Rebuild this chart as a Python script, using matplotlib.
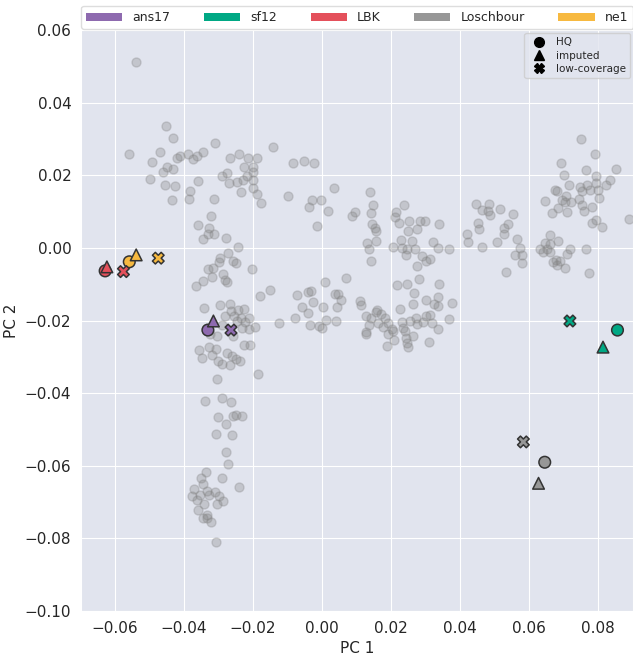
import matplotlib.pyplot as plt
import numpy as np
import seaborn as sns
from matplotlib.patches import Patch
from matplotlib.lines import Line2D

sns.set_style('darkgrid', {'axes.facecolor': '#e1e4ee'})
plt.rcParams['font.family'] = ['DejaVu Sans']

# reference panel, (PC1, PC2) --------------------------------------------

# upper left arm
ref_west = [(-0.0539, 0.0511), (-0.0453, 0.0337), (-0.0431, 0.0303), (-0.0561, 0.0258),
            (-0.0470, 0.0265), (-0.0310, 0.0290), (-0.0143, 0.0279), (-0.0494, 0.0238),
            (-0.0412, 0.0254), (-0.0388, 0.0260), (-0.0421, 0.0247), (-0.0363, 0.0254),
            (-0.0344, 0.0265), (-0.0373, 0.0246), (-0.0267, 0.0249), (-0.0241, 0.0260),
            (-0.0215, 0.0249), (-0.0189, 0.0247), (-0.0450, 0.0223), (-0.0431, 0.0217),
            (-0.0460, 0.0208), (-0.0500, 0.0190), (-0.0455, 0.0174), (-0.0426, 0.0171),
            (-0.0436, 0.0131), (-0.0383, 0.0157), (-0.0386, 0.0134), (-0.0361, 0.0185),
            (-0.0313, 0.0134), (-0.0291, 0.0197), (-0.0276, 0.0206), (-0.0270, 0.0180),
            (-0.0247, 0.0183), (-0.0225, 0.0223), (-0.0199, 0.0223), (-0.0218, 0.0199),
            (-0.0228, 0.0187), (-0.0199, 0.0187), (-0.0201, 0.0166), (-0.0236, 0.0153),
            (-0.0189, 0.0148), (-0.0177, 0.0125), (-0.0199, 0.0208)]

# vertical arm, upper half
ref_stem = [(-0.0322, 0.0088), (-0.0359, 0.0063), (-0.0327, 0.0056), (-0.0344, 0.0026),
            (-0.0331, 0.0038), (-0.0312, 0.0038), (-0.0279, 0.0028), (-0.0244, 0.0004),
            (-0.0273, -0.0013), (-0.0296, -0.0027), (-0.0300, -0.0039), (-0.0259, -0.0036),
            (-0.0250, -0.0041), (-0.0332, -0.0057), (-0.0317, -0.0054), (-0.0202, -0.0059),
            (-0.0320, -0.0080), (-0.0286, -0.0071), (-0.0281, -0.0088), (-0.0276, -0.0094),
            (-0.0344, -0.0091), (-0.0365, -0.0105), (-0.0151, -0.0116), (-0.0180, -0.0132),
            (-0.0341, -0.0166), (-0.0296, -0.0157), (-0.0267, -0.0154), (-0.0265, -0.0174),
            (-0.0243, -0.0172), (-0.0226, -0.0169), (-0.0281, -0.0188), (-0.0254, -0.0188),
            (-0.0235, -0.0192), (-0.0212, -0.0192), (-0.0247, -0.0201), (-0.0223, -0.0203),
            (-0.0291, -0.0212), (-0.0194, -0.0218), (-0.0211, -0.0223), (-0.0233, -0.0220),
            (-0.0325, -0.0238), (-0.0257, -0.0243), (-0.0305, -0.0243), (-0.0124, -0.0206),
            (-0.0356, -0.0281), (-0.0327, -0.0272), (-0.0307, -0.0278), (-0.0226, -0.0268),
            (-0.0209, -0.0268), (-0.0349, -0.0303), (-0.0320, -0.0296), (-0.0301, -0.0310),
            (-0.0276, -0.0289), (-0.0262, -0.0298), (-0.0249, -0.0307), (-0.0238, -0.0312),
            (-0.0291, -0.0319), (-0.0267, -0.0321), (-0.0186, -0.0347), (-0.0305, -0.0362)]

# vertical arm, lower half
ref_foot = [(-0.0339, -0.0420), (-0.0291, -0.0413), (-0.0265, -0.0425), (-0.0301, -0.0466),
            (-0.0279, -0.0484), (-0.0257, -0.0463), (-0.0250, -0.0459), (-0.0233, -0.0462),
            (-0.0307, -0.0512), (-0.0260, -0.0516), (-0.0278, -0.0563), (-0.0272, -0.0594),
            (-0.0336, -0.0617), (-0.0351, -0.0634), (-0.0291, -0.0634), (-0.0241, -0.0657),
            (-0.0344, -0.0650), (-0.0371, -0.0663), (-0.0334, -0.0668), (-0.0310, -0.0672),
            (-0.0378, -0.0682), (-0.0354, -0.0681), (-0.0327, -0.0679), (-0.0300, -0.0684),
            (-0.0286, -0.0696), (-0.0305, -0.0705), (-0.0341, -0.0705), (-0.0363, -0.0693),
            (-0.0359, -0.0721), (-0.0334, -0.0735), (-0.0346, -0.0744), (-0.0322, -0.0755),
            (-0.0334, -0.0744), (-0.0308, -0.0810)]

# centre, upper band
ref_mid = [(-0.0085, 0.0234), (-0.0052, 0.0239), (-0.0022, 0.0235), (-0.0099, 0.0143),
           (-0.0030, 0.0132), (-0.0038, 0.0113), (-0.0004, 0.0133), (0.0035, 0.0166),
           (0.0017, 0.0102), (-0.0014, 0.0061), (0.0086, 0.0088), (0.0096, 0.0100),
           (0.0139, 0.0155), (0.0147, 0.0119), (0.0142, 0.0097), (0.0144, 0.0067),
           (0.0154, 0.0054), (0.0157, 0.0047), (0.0158, 0.0019), (0.0131, 0.0015),
           (0.0137, -0.0002), (0.0141, -0.0036), (0.0238, 0.0119), (0.0216, 0.0100),
           (0.0213, 0.0086), (0.0224, 0.0069), (0.0252, 0.0074), (0.0284, 0.0074),
           (0.0299, 0.0074), (0.0340, 0.0067), (0.0275, 0.0053), (0.0250, 0.0047),
           (0.0228, 0.0021), (0.0260, 0.0019), (0.0321, 0.0017), (0.0207, 0.0003),
           (0.0231, 0.0001), (0.0246, -0.0004), (0.0270, -0.0004), (0.0335, 0.0001),
           (0.0369, -0.0002), (0.0243, -0.0019), (0.0291, -0.0022), (0.0303, -0.0036),
           (0.0313, -0.0030), (0.0276, -0.0050), (0.0282, -0.0084), (0.0218, -0.0103),
           (0.0246, -0.0100), (0.0267, -0.0123), (0.0340, -0.0098), (0.0303, -0.0144),
           (0.0335, -0.0134), (0.0325, -0.0154), (0.0337, -0.0160), (0.0378, -0.0151),
           (0.0265, -0.0155), (0.0069, -0.0082), (0.0009, -0.0094), (0.0038, -0.0126),
           (0.0047, -0.0126), (0.0055, -0.0144), (0.0043, -0.0163), (0.0110, -0.0146),
           (0.0113, -0.0158), (0.0002, -0.0163), (-0.0073, -0.0130), (-0.0041, -0.0121),
           (-0.0033, -0.0119), (-0.0025, -0.0149), (-0.0059, -0.0163), (0.0160, -0.0172),
           (0.0226, -0.0167)]

# centre, lower band
ref_low = [(-0.0042, -0.0180), (-0.0078, -0.0192), (-0.0035, -0.0212), (-0.0008, -0.0216),
           (-0.0001, -0.0220), (0.0013, -0.0197), (0.0041, -0.0200), (0.0128, -0.0188),
           (0.0142, -0.0192), (0.0158, -0.0177), (0.0171, -0.0183), (0.0183, -0.0192),
           (0.0137, -0.0212), (0.0163, -0.0206), (0.0178, -0.0218), (0.0128, -0.0231),
           (0.0128, -0.0238), (0.0192, -0.0206), (0.0202, -0.0222), (0.0207, -0.0229),
           (0.0192, -0.0238), (0.0209, -0.0252), (0.0189, -0.0270), (0.0231, -0.0203),
           (0.0236, -0.0220), (0.0241, -0.0229), (0.0244, -0.0247), (0.0246, -0.0261),
           (0.0250, -0.0272), (0.0265, -0.0243), (0.0255, -0.0201), (0.0272, -0.0192),
           (0.0275, -0.0208), (0.0294, -0.0204), (0.0301, -0.0188), (0.0313, -0.0185),
           (0.0318, -0.0206), (0.0337, -0.0223), (0.0310, -0.0258), (0.0368, -0.0195)]

# right cluster
ref_east = [(0.0751, 0.0300), (0.0793, 0.0260), (0.0692, 0.0235), (0.0767, 0.0215),
            (0.0852, 0.0217), (0.0701, 0.0201), (0.0796, 0.0199), (0.0796, 0.0180),
            (0.0835, 0.0187), (0.0823, 0.0173), (0.0717, 0.0174), (0.0748, 0.0168),
            (0.0770, 0.0174), (0.0753, 0.0157), (0.0777, 0.0159), (0.0801, 0.0160),
            (0.0675, 0.0159), (0.0682, 0.0157), (0.0709, 0.0143), (0.0697, 0.0131),
            (0.0704, 0.0127), (0.0722, 0.0127), (0.0745, 0.0136), (0.0804, 0.0139),
            (0.0648, 0.0130), (0.0753, 0.0119), (0.0783, 0.0113), (0.0684, 0.0111),
            (0.0667, 0.0096), (0.0712, 0.0100), (0.0760, 0.0102), (0.0782, 0.0070),
            (0.0796, 0.0076), (0.0813, 0.0058), (0.0891, 0.0079), (0.0448, 0.0122),
            (0.0464, 0.0104), (0.0484, 0.0122), (0.0482, 0.0102), (0.0486, 0.0091),
            (0.0515, 0.0108), (0.0555, 0.0093), (0.0453, 0.0070), (0.0456, 0.0052),
            (0.0421, 0.0038), (0.0424, 0.0017), (0.0463, 0.0004), (0.0539, 0.0067),
            (0.0529, 0.0056), (0.0529, 0.0039), (0.0507, 0.0017), (0.0566, 0.0024),
            (0.0573, -0.0001), (0.0561, -0.0020), (0.0581, -0.0020), (0.0581, -0.0041),
            (0.0661, 0.0035), (0.0646, 0.0015), (0.0661, 0.0010), (0.0685, 0.0019),
            (0.0632, -0.0004), (0.0653, -0.0004), (0.0661, -0.0011), (0.0641, -0.0011),
            (0.0719, -0.0004), (0.0711, -0.0017), (0.0765, -0.0004), (0.0671, -0.0038),
            (0.0679, -0.0034), (0.0690, -0.0036), (0.0683, -0.0047), (0.0704, -0.0054),
            (0.0535, -0.0065), (0.0775, -0.0068)]

# highlighted ancient samples -------------------------------------------
samples = ['ans17', 'sf12', 'LBK', 'Loschbour', 'ne1']
colors = ['#8e6aaf', '#00a884', '#e4505b', '#979797', '#f7b940']

hq_pc1 = [-0.0331, 0.0857, -0.0629, 0.0646, -0.0559]
hq_pc2 = [-0.0226, -0.0226, -0.0063, -0.0590, -0.0038]
imp_pc1 = [-0.0315, 0.0815, -0.0624, 0.0628, -0.0539]
imp_pc2 = [-0.0201, -0.0273, -0.0052, -0.0648, -0.0019]
low_pc1 = [-0.0264, 0.0719, -0.0576, 0.0584, -0.0475]
low_pc2 = [-0.0226, -0.0201, -0.0065, -0.0534, -0.0028]

kinds = ['HQ', 'imputed', 'low-coverage']
kind_markers = ['o', '^', 'X']

# -----------------------------------------------------------------------

ref = np.array(ref_west + ref_stem + ref_foot + ref_mid + ref_low + ref_east)

fig = plt.figure(figsize=(6.33, 6.55), dpi=100)
ax = fig.add_axes([0.128, 0.067, 0.872, 0.887])

ax.scatter(ref[:, 0], ref[:, 1], s=42, color='gray', alpha=0.3,
           edgecolor='gray', linewidth=1.0, zorder=2)

for pc1, pc2, mk in zip([hq_pc1, imp_pc1, low_pc1], [hq_pc2, imp_pc2, low_pc2], kind_markers):
    ax.scatter(pc1, pc2, s=70, c=colors, marker=mk, edgecolor='#333333',
               linewidth=1.1, zorder=3)

ax.set_xlim(-0.0699, 0.0902)
ax.set_ylim(-0.10, 0.06)
ax.set_xticks(np.arange(-0.06, 0.081, 0.02))
ax.set_yticks(np.arange(-0.10, 0.061, 0.02))
ax.tick_params(labelsize=11)
ax.set_xlabel('PC 1', fontsize=11)
ax.set_ylabel('PC 2', fontsize=11)

color_handles = [Patch(facecolor=c, edgecolor='none', label=n) for n, c in zip(samples, colors)]
leg1 = ax.legend(handles=color_handles, loc='lower left', bbox_to_anchor=(0, 1.002, 1, 0.05),
                 mode='expand', ncol=5, fontsize=9, handlelength=2.9, handleheight=0.6,
                 borderaxespad=0, facecolor='white', edgecolor='#dddddd', framealpha=1)
ax.add_artist(leg1)

kind_handles = [Line2D([], [], marker=m, color='black', linestyle='', markersize=7, label=k)
                for k, m in zip(kinds, kind_markers)]
ax.legend(handles=kind_handles, loc='upper right', fontsize=7.5, borderaxespad=0.3,
          labelspacing=0.3, handletextpad=0.6)

fig.savefig('out.png', dpi=100)
